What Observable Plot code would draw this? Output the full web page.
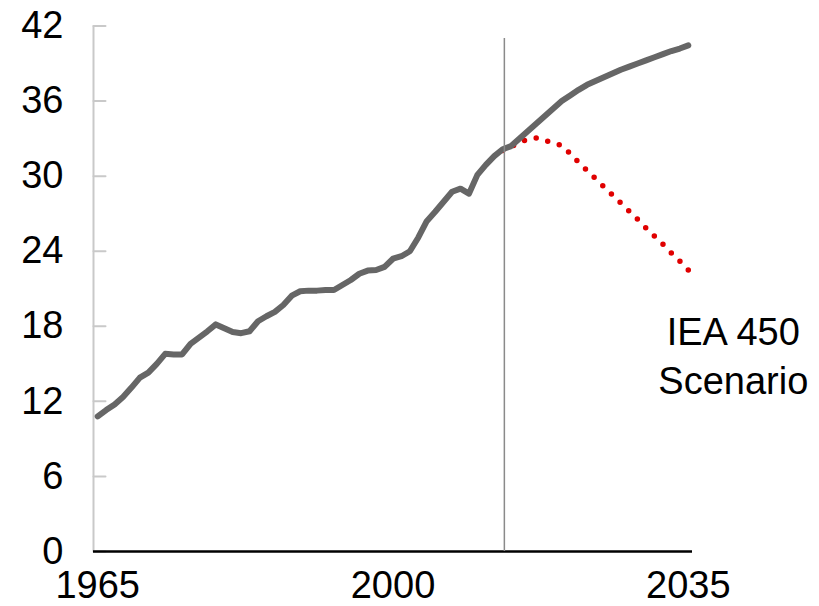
<!DOCTYPE html>
<html><head><meta charset="utf-8">
<script src="https://cdn.jsdelivr.net/npm/d3@7"></script>
<script src="https://cdn.jsdelivr.net/npm/@observablehq/plot@0.6"></script>
<style>body{margin:0;background:#fff;}</style>
</head><body><div id="chart"></div>
<script>
// Historical + outlook series (1965–2035)
const years = d3.range(1965, 2036);
const outlookValues = [
  10.8, 11.3, 11.75, 12.35, 13.1, 13.9, 14.3, 15.0, 15.8, 15.75,
  15.75, 16.6, 17.1, 17.6, 18.15, 17.85, 17.55, 17.45, 17.6, 18.4,
  18.8, 19.15, 19.7, 20.45, 20.8, 20.85, 20.85, 20.9, 20.9, 21.3,
  21.7, 22.2, 22.45, 22.5, 22.75, 23.4, 23.6, 24.0, 25.1, 26.4,
  27.15, 27.95, 28.75, 29.0, 28.6, 30.1, 30.9, 31.6, 32.15, 32.4,
  33.0, 33.6, 34.2, 34.8, 35.4, 36.0, 36.45, 36.9, 37.3, 37.6,
  37.9, 38.2, 38.5, 38.75, 39.0, 39.25, 39.5, 39.75, 40.0, 40.2,
  40.45
];
// IEA 450 Scenario (2013–2035)
const scenarioYears = d3.range(2013, 2036);
const scenarioValues = [
  32.05, 32.35, 32.7, 32.95, 33.05, 32.85, 32.65, 32.45, 31.8, 31.1,
  30.45, 29.8, 29.15, 28.5, 27.85, 27.2, 26.55, 25.85, 25.2, 24.55,
  23.85, 23.2, 22.5
];
const xTicks = [1965, 2000, 2035];
const yTicks = [0, 6, 12, 18, 24, 30, 36, 42];
const dividerYear = 2013.2;
const dividerTop = 41;
const annotation = "IEA 450\nScenario";

const outlook = years.map((year, i) => ({year, value: outlookValues[i]}));
const scenario = scenarioYears.map((year, i) => ({year, value: scenarioValues[i]}));

const tickShape = {draw(context, l) { context.moveTo(0, 0); context.lineTo(0, -l); }};
const FONT = "Liberation Sans, Arial, Helvetica, sans-serif";

const chart = Plot.plot({
  width: 819, height: 606,
  marginLeft: 93, marginRight: 127, marginTop: 25.5, marginBottom: 55,
  style: {fontFamily: FONT, background: "#fff", color: "#000", overflow: "visible"},
  x: {domain: [1964.5, 2035.5]},
  y: {domain: [0, 42]},
  marks: [
    Plot.ruleX([1964.5], {y1: 0, y2: 42, stroke: "#c9c9c9", strokeWidth: 2}),
    Plot.vector(yTicks, {y: d => d, frameAnchor: "left", length: 12, rotate: 90, anchor: "start", shape: tickShape, stroke: "#c9c9c9", strokeWidth: 2}),
    Plot.axisY({ticks: yTicks, tickSize: 0, tickPadding: 30, label: null, fontSize: 38, fill: "#000"}),
    Plot.axisX({ticks: xTicks, tickSize: 0, tickPadding: 20, label: null, fontSize: 38, fill: "#000", tickFormat: d => String(d)}),
    Plot.line(scenario, {x: "year", y: "value", stroke: "#e00000", strokeWidth: 5.5, strokeDasharray: "0,12", strokeLinecap: "round", className: "scenario-line"}),
    Plot.line(outlook, {x: "year", y: "value", stroke: "#666666", strokeWidth: 6, strokeLinecap: "round", strokeLinejoin: "round"}),
    Plot.ruleY([0], {stroke: "#000", strokeWidth: 2.5}),
    Plot.ruleX([dividerYear], {y1: 0, y2: dividerTop, stroke: "#8a8a8a", strokeWidth: 1.5}),
    Plot.text([scenario[scenario.length - 1]], {x: "year", y: "value", text: () => annotation, dx: 45, dy: 84, fontSize: 38, textAnchor: "middle", lineHeight: 1.3, fill: "#000"})
  ]
});
document.getElementById("chart").appendChild(chart);
// spread the dots evenly so one lands on each end of the dotted line
chart.querySelectorAll(".scenario-line path").forEach(p => {
  const L = p.getTotalLength();
  const n = Math.max(1, Math.round(L / 11.8));
  p.setAttribute("stroke-dasharray", `0,${(L / n).toFixed(3)}`);
  p.style.strokeDasharray = `0,${(L / n).toFixed(3)}`;
});
</script>
</body></html>
